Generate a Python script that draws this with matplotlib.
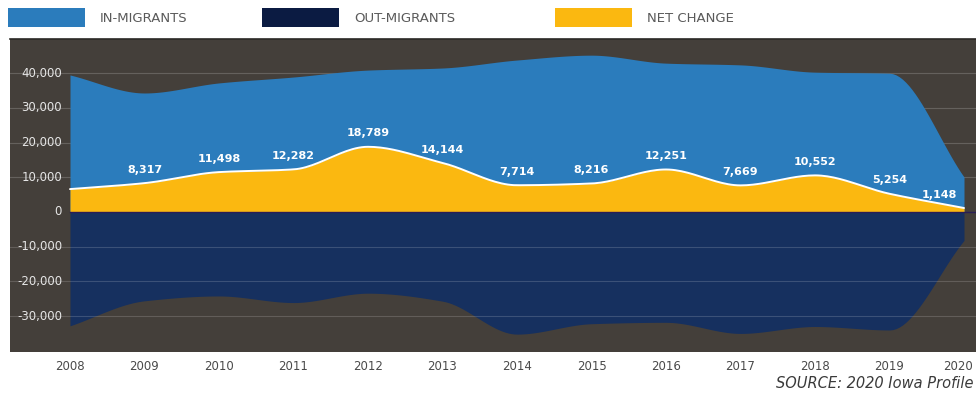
import numpy as np
import matplotlib
matplotlib.use("Agg")
import matplotlib.pyplot as plt
from matplotlib.patches import Rectangle
from matplotlib.transforms import blended_transform_factory, ScaledTranslation

# Iowa migration, 2008-2020
years = [2008, 2009, 2010, 2011, 2012, 2013, 2014, 2015, 2016, 2017, 2018, 2019, 2020]
in_migrants = [39500, 34300, 37200, 38900, 40900, 41500, 43800, 45200, 42900, 42400, 40300, 40000, 10100]
out_migrants = [-32800, -25600, -24200, -26100, -23400, -25700, -35200, -32200, -31800, -35000, -33000, -34000, -8200]
net_change = [6600, 8317, 11498, 12282, 18789, 14144, 7714, 8216, 12251, 7669, 10552, 5254, 1148]
series_names = ["IN-MIGRANTS", "OUT-MIGRANTS", "NET CHANGE"]
y_ticks = [40000, 30000, 20000, 10000, 0, -10000, -20000, -30000]
source_note = "SOURCE: 2020 Iowa Profile"

C_IN = "#2b7cbc"
C_OUT = "#16305f"
C_NET = "#fbb810"
C_BG = "#443f3a"


def monotone_curve(x, y, n=24):
    """Monotone cubic (Fritsch-Carlson) path through the points, for smooth area edges."""
    x = np.asarray(x, float)
    y = np.asarray(y, float)
    h = np.diff(x)
    d = np.diff(y) / h
    m = np.zeros_like(y)
    m[0], m[-1] = d[0], d[-1]
    for i in range(1, len(y) - 1):
        if d[i - 1] * d[i] <= 0:
            m[i] = 0.0
        else:
            w1 = 2 * h[i] + h[i - 1]
            w2 = h[i] + 2 * h[i - 1]
            m[i] = (w1 + w2) / (w1 / d[i - 1] + w2 / d[i])
    xs, ys = [], []
    for i in range(len(x) - 1):
        t = np.linspace(0, 1, n, endpoint=(i == len(x) - 2))
        h00 = 2 * t**3 - 3 * t**2 + 1
        h10 = t**3 - 2 * t**2 + t
        h01 = -2 * t**3 + 3 * t**2
        h11 = t**3 - t**2
        xs.append(x[i] + t * h[i])
        ys.append(h00 * y[i] + h10 * h[i] * m[i] + h01 * y[i + 1] + h11 * h[i] * m[i + 1])
    return np.concatenate(xs), np.concatenate(ys)


W, H = 976, 398
fig = plt.figure(figsize=(W / 100, H / 100), dpi=100)
fig.patch.set_facecolor("white")

ax = fig.add_axes([10 / W, 1 - 352 / H, 966 / W, (352 - 39) / H])
ax.set_facecolor(C_BG)

px_per_year = 74.5
ax.set_xlim(2008 - 60 / px_per_year, 2008 + 906 / px_per_year)
ax.set_ylim(-40350, 49860)

xi, yi = monotone_curve(years, in_migrants)
xo, yo = monotone_curve(years, out_migrants)
xn, yn = monotone_curve(years, net_change)

ax.fill_between(xi, 0, yi, color=C_IN, lw=0, zorder=2)
ax.fill_between(xo, 0, yo, color=C_OUT, lw=0, zorder=2)
ax.fill_between(xn, 0, yn, color=C_NET, lw=0, zorder=3)
ax.plot(xn, yn, color="white", lw=1.4, zorder=4, solid_capstyle="round")
ax.axhline(0, color="#2a1d55", lw=1.0, zorder=4, xmin=60 / 966)

# horizontal grid: under the blue area above zero, over the navy area below
for v in y_ticks:
    if v > 0:
        ax.axhline(v, color="white", lw=0.8, alpha=0.18, zorder=1)
    elif v < 0:
        ax.axhline(v, color="white", lw=0.8, alpha=0.16, zorder=5)

# value labels for the net change
for i, (yr, v) in enumerate(zip(years, net_change)):
    if i == 0:
        continue
    dx = -18 if yr == years[-1] else 0
    ax.annotate(f"{v:,}", (yr, v), xytext=(dx, 6), textcoords="offset points",
                ha="center", va="bottom", color="white", fontsize=8,
                fontweight="bold", zorder=6)

# y axis labels sit inside the dark panel, left of the first year
ax.set_yticks([])
ylab_tr = blended_transform_factory(ax.transAxes, ax.transData)
for v in y_ticks:
    ax.text(52 / 966, v, f"{v:,}", transform=ylab_tr, ha="right", va="center",
            fontsize=8.5, color="#e6e6e6", zorder=6)

ax.set_xticks(years)
ax.set_xticklabels([str(y) for y in years])
ax.tick_params(axis="x", length=0, pad=6, labelsize=8.5, labelcolor="#4a4a4a")
# nudge the last year label so it stays on the canvas
last = ax.get_xticklabels()[-1]
last.set_transform(last.get_transform() + ScaledTranslation(-6 / 100, 0, fig.dpi_scale_trans))

for s in ax.spines.values():
    s.set_visible(False)
ax.spines["top"].set_visible(True)
ax.spines["top"].set_color("#2b2926")
ax.spines["top"].set_linewidth(1.2)

# legend along the top
legend_items = [(8, C_IN), (262, "#0b1b42"), (555, C_NET)]
for (x0, col), name in zip(legend_items, series_names):
    fig.patches.append(Rectangle((x0 / W, 1 - 27 / H), 77 / W, 19 / H,
                                 transform=fig.transFigure, color=col, lw=0))
    fig.text((x0 + 92) / W, 1 - 18 / H, name, ha="left", va="center",
             fontsize=9.5, color="#5a5a5a")

fig.text(973 / W, 1 - 383 / H, source_note, ha="right", va="center",
         fontsize=10.5, style="italic", color="#3a3a3a")

fig.savefig("out.png", dpi=100)
